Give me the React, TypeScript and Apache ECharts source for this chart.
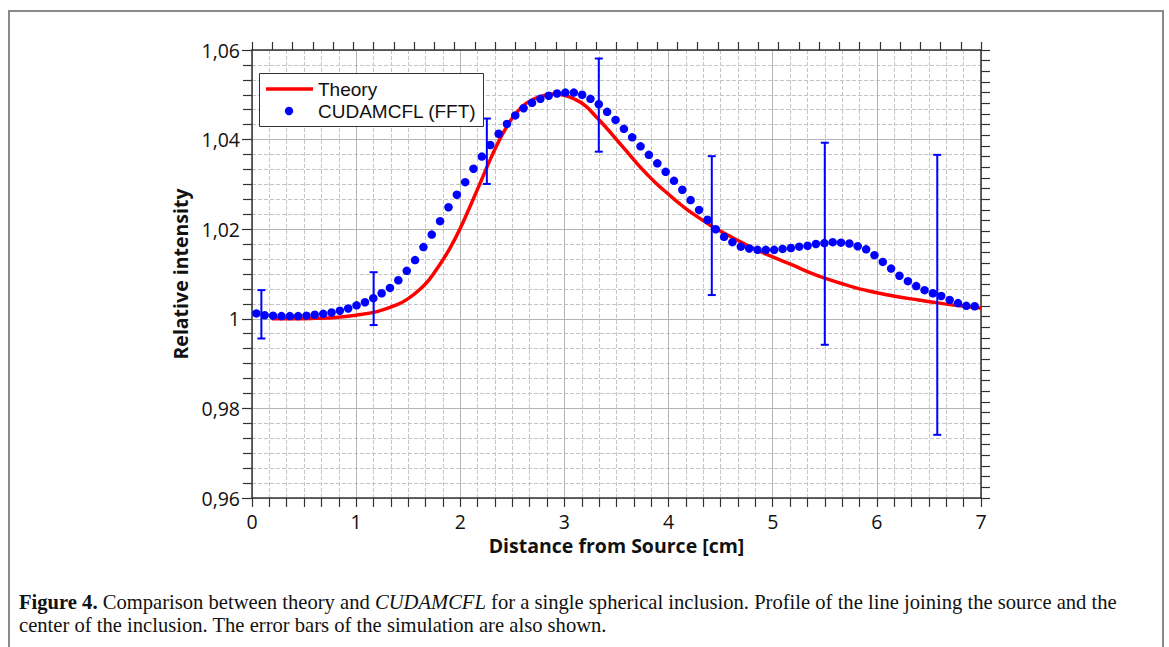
import React, { useEffect, useRef } from "react";
import * as echarts from "echarts";

// Theory curve (x in cm, relative intensity)
const theoryX = [0.19, 0.4, 0.6, 0.8, 1.0, 1.2, 1.4, 1.5, 1.6, 1.7, 1.8, 1.9, 2.0, 2.1, 2.2, 2.3, 2.4, 2.5, 2.6, 2.7, 2.8, 2.9, 3.0, 3.1, 3.2, 3.3, 3.4, 3.5, 3.6, 3.7, 3.8, 3.9, 4.0, 4.1, 4.2, 4.4, 4.6, 4.8, 5.0, 5.2, 5.4, 5.6, 5.8, 6.0, 6.2, 6.4, 6.6, 6.8, 7.0];
const theoryY = [1.0, 1.0, 1.0001, 1.0003, 1.0008, 1.0016, 1.0032, 1.0045, 1.0063, 1.0087, 1.012, 1.0157, 1.0202, 1.0254, 1.0308, 1.0362, 1.041, 1.0448, 1.0475, 1.049, 1.0498, 1.0502, 1.0499, 1.049, 1.0476, 1.0452, 1.0427, 1.04, 1.0373, 1.0346, 1.0321, 1.0298, 1.0278, 1.0258, 1.024, 1.0209, 1.0183, 1.0159, 1.0138, 1.0119, 1.0099, 1.0083, 1.0069, 1.0058, 1.0049, 1.0042, 1.0035, 1.0029, 1.0024];

// CUDAMCFL (FFT) simulated points
const simX = [0.042, 0.122, 0.202, 0.283, 0.363, 0.443, 0.523, 0.603, 0.684, 0.764, 0.844, 0.924, 1.004, 1.085, 1.165, 1.245, 1.325, 1.405, 1.486, 1.566, 1.646, 1.726, 1.806, 1.887, 1.967, 2.047, 2.127, 2.207, 2.288, 2.368, 2.448, 2.528, 2.608, 2.689, 2.769, 2.849, 2.929, 3.009, 3.09, 3.17, 3.25, 3.33, 3.41, 3.491, 3.571, 3.651, 3.731, 3.811, 3.892, 3.972, 4.052, 4.132, 4.212, 4.293, 4.373, 4.453, 4.533, 4.613, 4.694, 4.774, 4.854, 4.934, 5.014, 5.095, 5.175, 5.255, 5.335, 5.415, 5.496, 5.576, 5.656, 5.736, 5.816, 5.897, 5.977, 6.057, 6.137, 6.217, 6.298, 6.378, 6.458, 6.538, 6.618, 6.699, 6.779, 6.859, 6.939];
const simY = [1.0012, 1.0008, 1.0007, 1.0006, 1.0006, 1.0006, 1.0007, 1.0009, 1.0011, 1.0014, 1.0018, 1.0023, 1.003, 1.0037, 1.0046, 1.0057, 1.0069, 1.0086, 1.0107, 1.0131, 1.016, 1.0188, 1.0218, 1.0249, 1.0277, 1.0305, 1.0335, 1.0362, 1.0388, 1.0413, 1.0435, 1.0454, 1.047, 1.0482, 1.0491, 1.0498, 1.0503, 1.0505, 1.0505, 1.05, 1.0491, 1.0479, 1.0462, 1.0444, 1.0424, 1.0405, 1.0385, 1.0366, 1.0347, 1.0328, 1.0308, 1.0288, 1.0265, 1.0243, 1.0221, 1.02, 1.0183, 1.0171, 1.0161, 1.0157, 1.0154, 1.0154, 1.0154, 1.0156, 1.0158, 1.0161, 1.0163, 1.0167, 1.0169, 1.0171, 1.017, 1.0168, 1.0162, 1.0155, 1.0142, 1.0127, 1.0112, 1.0096, 1.0084, 1.0073, 1.0064, 1.0057, 1.0051, 1.0042, 1.0035, 1.0029, 1.0028];

// Error bars of the simulation
const errX = [0.09, 1.168, 2.255, 3.33, 4.415, 5.5, 6.58];
const errLow = [0.9956, 0.9986, 1.0301, 1.0373, 1.0053, 0.9942, 0.9741];
const errHigh = [1.0064, 1.0104, 1.0447, 1.0581, 1.0363, 1.0393, 1.0366];

const X_MIN = 0;
const X_MAX = 7;
const Y_MIN = 0.96;
const Y_MAX = 1.06;
const Y_STEP = 0.02;

const LEGEND_NAMES = ["Theory", "CUDAMCFL (FFT)"];
const X_TITLE = "Distance from Source [cm]";
const Y_TITLE = "Relative intensity";

const SANS = "'Open Sans', 'Noto Sans', sans-serif";
const LEGEND_FONT = "'Liberation Sans', Arial, sans-serif";
const SERIF = "'Liberation Serif', 'DejaVu Serif', serif";

export default function App() {
  const ref = useRef<HTMLDivElement>(null);
  useEffect(() => {
    if (!ref.current) return;
    const chart = echarts.init(ref.current, undefined, { renderer: "svg" });
    const axisColor = "#333";
    const fmt = (v: number) => String(parseFloat(v.toFixed(2))).replace(".", ",");
    const option: any = {
      animation: false,
      backgroundColor: "#fff",
      grid: { left: 252, top: 50, width: 729, height: 448, containLabel: false },
      xAxis: [
        {
          type: "value",
          min: X_MIN,
          max: X_MAX,
          interval: 1,
          position: "bottom",
          name: X_TITLE,
          nameLocation: "middle",
          nameGap: 36,
          nameTextStyle: { fontFamily: SANS, fontSize: 19.5, fontWeight: "bold", color: "#111" },
          axisLine: { show: true, onZero: false, lineStyle: { color: axisColor, width: 1.5 } },
          axisTick: { show: true, length: 9, lineStyle: { color: axisColor, width: 1.2 } },
          minorTick: { show: true, splitNumber: 6, length: 9, lineStyle: { color: axisColor, width: 1.2 } },
          axisLabel: { formatter: fmt, fontFamily: SANS, fontSize: 19.5, color: "#111", margin: 13 },
          splitLine: { show: true, lineStyle: { color: "#b4b4b4", width: 1 } },
          minorSplitLine: { show: true, lineStyle: { color: "#c4c4c4", width: 1, type: [4, 2] } },
        },
        {
          type: "value",
          min: 0,
          max: 36,
          interval: 1,
          position: "top",
          axisLine: { show: true, onZero: false, lineStyle: { color: axisColor, width: 1.5 } },
          axisTick: { show: true, length: 8, lineStyle: { color: axisColor, width: 1.2 } },
          axisLabel: { show: false },
          splitLine: { show: false },
        },
      ],
      yAxis: [
        {
          type: "value",
          min: Y_MIN,
          max: Y_MAX,
          interval: Y_STEP,
          position: "left",
          name: Y_TITLE,
          nameLocation: "middle",
          nameRotate: 90,
          nameGap: 46,
          nameTextStyle: { fontFamily: SANS, fontSize: 19.5, fontWeight: "bold", color: "#111" },
          axisLine: { show: true, onZero: false, lineStyle: { color: axisColor, width: 1.5 } },
          axisTick: { show: true, length: 10, lineStyle: { color: axisColor, width: 1.2 } },
          minorTick: { show: true, splitNumber: 6, length: 9, lineStyle: { color: axisColor, width: 1.2 } },
          axisLabel: { formatter: fmt, fontFamily: SANS, fontSize: 19.5, color: "#111", margin: 12 },
          splitLine: { show: true, lineStyle: { color: "#b4b4b4", width: 1 } },
          minorSplitLine: { show: true, lineStyle: { color: "#c4c4c4", width: 1, type: [4, 2] } },
        },
        {
          type: "value",
          min: 0,
          max: 42,
          interval: 1,
          position: "right",
          axisLine: { show: true, onZero: false, lineStyle: { color: axisColor, width: 1.5 } },
          axisTick: { show: true, length: 9, lineStyle: { color: axisColor, width: 1.2 } },
          axisLabel: { show: false },
          splitLine: { show: false },
        },
      ],
      series: [
        {
          name: LEGEND_NAMES[0],
          type: "line",
          xAxisIndex: 0,
          yAxisIndex: 0,
          data: theoryX.map((x, i) => [x, theoryY[i]]),
          smooth: 0.4,
          showSymbol: false,
          symbol: "none",
          lineStyle: { color: "#ff0000", width: 3.5 },
          z: 2,
        },
        {
          name: LEGEND_NAMES[1],
          type: "scatter",
          xAxisIndex: 0,
          yAxisIndex: 0,
          data: simX.map((x, i) => [x, simY[i]]),
          symbol: "circle",
          symbolSize: 8.5,
          itemStyle: { color: "#0000ff", opacity: 1 },
          z: 3,
        },
        {
          name: "errors",
          type: "custom",
          xAxisIndex: 0,
          yAxisIndex: 0,
          data: errX.map((x, i) => [x, errLow[i], errHigh[i]]),
          encode: { x: 0, y: [1, 2] },
          z: 4,
          renderItem: (params: any, api: any) => {
            const x = api.value(0);
            const lo = api.coord([x, api.value(1)]);
            const hi = api.coord([x, api.value(2)]);
            const hw = 4;
            const st = { stroke: "#0000ff", lineWidth: 2 };
            return {
              type: "group",
              children: [
                { type: "line", shape: { x1: hi[0], y1: hi[1], x2: lo[0], y2: lo[1] }, style: st },
                { type: "line", shape: { x1: hi[0] - hw, y1: hi[1], x2: hi[0] + hw, y2: hi[1] }, style: st },
                { type: "line", shape: { x1: lo[0] - hw, y1: lo[1], x2: lo[0] + hw, y2: lo[1] }, style: st },
              ],
            };
          },
        },
      ],
      graphic: [
        {
          type: "polyline",
          shape: { points: [[9, 647], [9, 11], [1163, 11], [1163, 647]] },
          style: { stroke: "#8a8a8a", lineWidth: 2, fill: "none" },
          silent: true,
          z: 100,
        },
        {
          type: "group",
          z: 100,
          children: [
            { type: "rect", shape: { x: 259.5, y: 73.5, width: 224, height: 53 }, style: { fill: "#fff", stroke: "#333", lineWidth: 1 }, z: 100 },
            { type: "line", shape: { x1: 266, y1: 89, x2: 313, y2: 89 }, style: { stroke: "#ff0000", lineWidth: 3.5 }, z: 101 },
            { type: "circle", shape: { cx: 289, cy: 111, r: 4.2 }, style: { fill: "#0000ff" }, z: 101 },
            { type: "text", x: 318, y: 89, style: { text: LEGEND_NAMES[0], font: `19px ${LEGEND_FONT}`, lineHeight: 20, fill: "#111", verticalAlign: "middle" }, z: 101 },
            { type: "text", x: 318, y: 111, style: { text: LEGEND_NAMES[1], font: `19px ${LEGEND_FONT}`, lineHeight: 20, fill: "#111", verticalAlign: "middle" }, z: 101 },
          ],
        },
        {
          type: "text",
          x: 19,
          y: 602,
          z: 100,
          style: {
            text: "{b|Figure 4.} Comparison between theory and {i|CUDAMCFL} for a single spherical inclusion. Profile of the line joining the source and the",
            fontFamily: SERIF,
            fontSize: 20.6,
            lineHeight: 21,
            fill: "#111",
            verticalAlign: "middle",
            rich: {
              b: { fontFamily: SERIF, fontSize: 20.6, lineHeight: 21, fontWeight: "bold", fill: "#111" },
              i: { fontFamily: SERIF, fontSize: 20.6, lineHeight: 21, fontStyle: "italic", fill: "#111" },
            },
          },
        },
        {
          type: "text",
          x: 19,
          y: 625,
          z: 100,
          style: {
            text: "center of the inclusion. The error bars of the simulation are also shown.",
            fontFamily: SERIF,
            fontSize: 20.6,
            lineHeight: 21,
            fill: "#111",
            verticalAlign: "middle",
          },
        },
      ],
    };
    chart.setOption(option);
    return () => chart.dispose();
  }, []);
  return (
    <div
      ref={ref}
      style={{ position: "absolute", left: 0, top: 0, width: 1169, height: 647, background: "#fff" }}
    />
  );
}
